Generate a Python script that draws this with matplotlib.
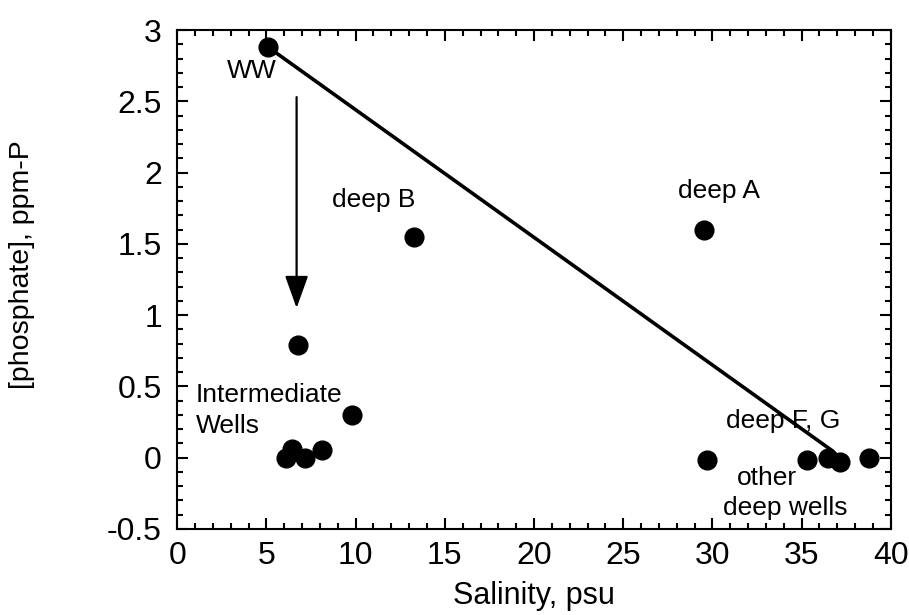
import matplotlib
matplotlib.use('Agg')
import matplotlib.pyplot as plt
from matplotlib.ticker import MultipleLocator


# salinity (psu) and phosphate (ppm-P)
SALINITY = [5.1, 13.28, 29.5, 6.78, 9.77, 6.09, 6.46, 7.15, 8.09,
            29.68, 35.29, 36.5, 37.16, 38.8]
PHOSPHATE = [2.88, 1.55, 1.60, 0.79, 0.30, 0.0, 0.06, 0.0, 0.056,
             -0.014, -0.02, 0.0, -0.03, 0.0]

# mixing line between wastewater and seawater end members
MIX_SALINITY = [5.1, 36.7]
MIX_PHOSPHATE = [2.88, 0.05]

# arrow start and end
ARROW_X = 6.69
ARROW_Y = [2.53, 1.05]

LABELS = [
    ('WW', 4.16, 2.71, 'center'),
    ('deep B', 11.0, 1.81, 'center'),
    ('deep A', 30.37, 1.87, 'center'),
    ('Intermediate', 1.04, 0.44, 'left'),
    ('Wells', 1.04, 0.22, 'left'),
    ('deep F, G', 33.96, 0.255, 'center'),
    ('other', 33.04, -0.14, 'center'),
    ('deep wells', 34.1, -0.35, 'center'),
]


def main():
    plt.rcParams['font.family'] = ['Liberation Sans', 'DejaVu Sans']

    fig = plt.figure(figsize=(9.09, 6.15), dpi=100)
    ax = fig.add_axes([0.195, 0.140, 0.785, 0.811])

    ax.plot(MIX_SALINITY, MIX_PHOSPHATE, color='black', lw=2.6, zorder=2)
    ax.plot(SALINITY, PHOSPHATE, 'o', color='black', markersize=13.5, zorder=3)

    ax.annotate('', xy=(ARROW_X, ARROW_Y[1]), xytext=(ARROW_X, ARROW_Y[0]),
                arrowprops=dict(arrowstyle='-|>,head_length=2.0,head_width=0.72',
                                color='black', lw=1.6, shrinkA=0, shrinkB=0))

    for text, x, y, ha in LABELS:
        ax.text(x, y, text, fontsize=19, ha=ha, va='center')

    ax.set_xlim(0, 40)
    ax.set_ylim(-0.5, 3)
    ax.xaxis.set_major_locator(MultipleLocator(5))
    ax.xaxis.set_minor_locator(MultipleLocator(1))
    ax.yaxis.set_major_locator(MultipleLocator(0.5))
    ax.yaxis.set_minor_locator(MultipleLocator(0.1))
    ax.yaxis.set_major_formatter(plt.FuncFormatter(lambda v, p: f'{v:g}'))

    ax.tick_params(which='both', direction='in', top=True, right=True, width=1.5)
    ax.tick_params(which='major', length=8, labelsize=23)
    ax.tick_params(axis='x', which='major', pad=9)
    ax.tick_params(axis='y', which='major', pad=11)
    ax.tick_params(which='minor', length=4)
    for s in ax.spines.values():
        s.set_linewidth(1.5)

    ax.set_xlabel('Salinity, psu', fontsize=22)
    ax.set_ylabel('[phosphate], ppm-P', fontsize=20.5)
    ax.xaxis.set_label_coords(0.5, -0.105)
    ax.yaxis.set_label_coords(-0.2, 0.53)

    plt.savefig('out.png', dpi=100)


if __name__ == '__main__':
    main()
